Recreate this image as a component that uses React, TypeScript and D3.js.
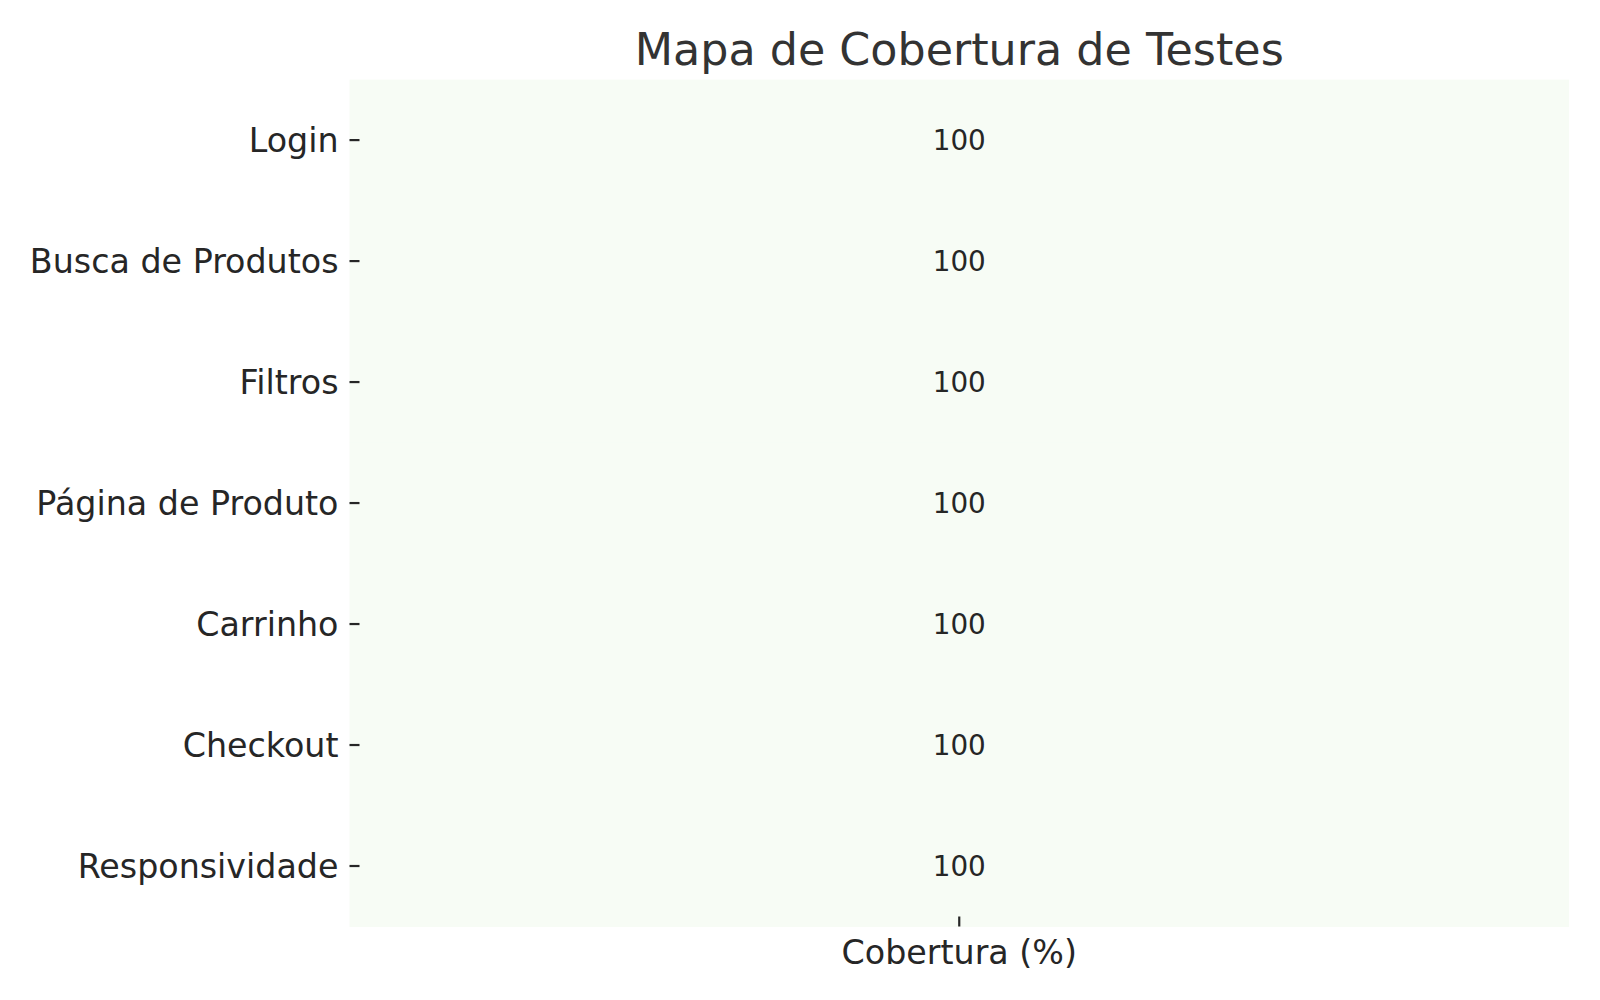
import { useEffect, useRef } from 'react'
import * as d3 from 'd3'

const AREAS = [
  'Login',
  'Busca de Produtos',
  'Filtros',
  'Página de Produto',
  'Carrinho',
  'Checkout',
  'Responsividade',
]
const COLUMNS = ['Cobertura (%)']
const COVERAGE = [100, 100, 100, 100, 100, 100, 100]

const TITLE = 'Mapa de Cobertura de Testes'

export default function App() {
  const svgRef = useRef<SVGSVGElement>(null)

  useEffect(() => {
    const svgEl = svgRef.current
    if (!svgEl) return

    const totalW = 1600
    const totalH = 1000
    const margin = { top: 79.6, right: 31, bottom: 73.5, left: 349.5 }
    const W = totalW - margin.left - margin.right
    const H = totalH - margin.top - margin.bottom
    const font = '"DejaVu Sans", sans-serif'

    d3.select(svgEl).selectAll('*').remove()
    const root = d3.select(svgEl)
    root.append('rect').attr('width', totalW).attr('height', totalH).attr('fill', '#fff')

    const svg = root.append('g').attr('transform', `translate(${margin.left},${margin.top})`)

    const x = d3.scaleBand().domain(COLUMNS).range([0, W])
    const y = d3.scaleBand().domain(AREAS).range([0, H])

    // single value -> bottom of the Greens map
    const color = (v: number) => (COVERAGE.every(c => c === v) ? '#f7fcf5' : d3.interpolateGreens(v / 100))

    const cells = AREAS.map((a, i) => ({ area: a, col: COLUMNS[0], value: COVERAGE[i] }))

    svg.selectAll('.cell')
      .data(cells).enter().append('rect')
      .attr('class', 'cell')
      .attr('x', d => x(d.col)!)
      .attr('y', d => y(d.area)!)
      .attr('width', x.bandwidth())
      .attr('height', y.bandwidth() + 0.5)
      .attr('fill', d => color(d.value))

    svg.selectAll('.annot')
      .data(cells).enter().append('text')
      .attr('class', 'annot')
      .attr('x', d => x(d.col)! + x.bandwidth() / 2)
      .attr('y', d => y(d.area)! + y.bandwidth() / 2 + 10)
      .attr('text-anchor', 'middle')
      .attr('font-family', font).attr('font-size', 27.8)
      .attr('fill', '#262626')
      .text(d => String(d.value))

    // ticks point inward, like the original
    svg.append('g')
      .call(d3.axisLeft(y).tickSize(-10).tickPadding(11))
      .call(ax => {
        ax.select('.domain').remove()
        ax.selectAll('.tick line').attr('stroke', '#262626').attr('stroke-width', 2.2)
        ax.selectAll('.tick text')
          .attr('font-family', font).attr('font-size', 33.3)
          .attr('fill', '#262626').attr('dy', 12).attr('x', -11)
      })

    svg.append('g')
      .attr('transform', `translate(0,${H})`)
      .call(d3.axisBottom(x).tickSize(-10).tickPadding(11))
      .call(ax => {
        ax.select('.domain').remove()
        ax.selectAll('.tick line').attr('stroke', '#262626').attr('stroke-width', 2.2)
        ax.selectAll('.tick text')
          .attr('font-family', font).attr('font-size', 33.3)
          .attr('fill', '#262626').attr('dy', 0).attr('y', 37)
      })

    root.append('text')
      .attr('x', margin.left + W / 2).attr('y', 65)
      .attr('text-anchor', 'middle')
      .attr('font-family', font).attr('font-size', 44.4)
      .attr('fill', '#333333')
      .text(TITLE)
  }, [])

  return (
    <div style={{ margin: -8 }}>
      <svg ref={svgRef} width={1600} height={1000} style={{ display: 'block' }} />
    </div>
  )
}
